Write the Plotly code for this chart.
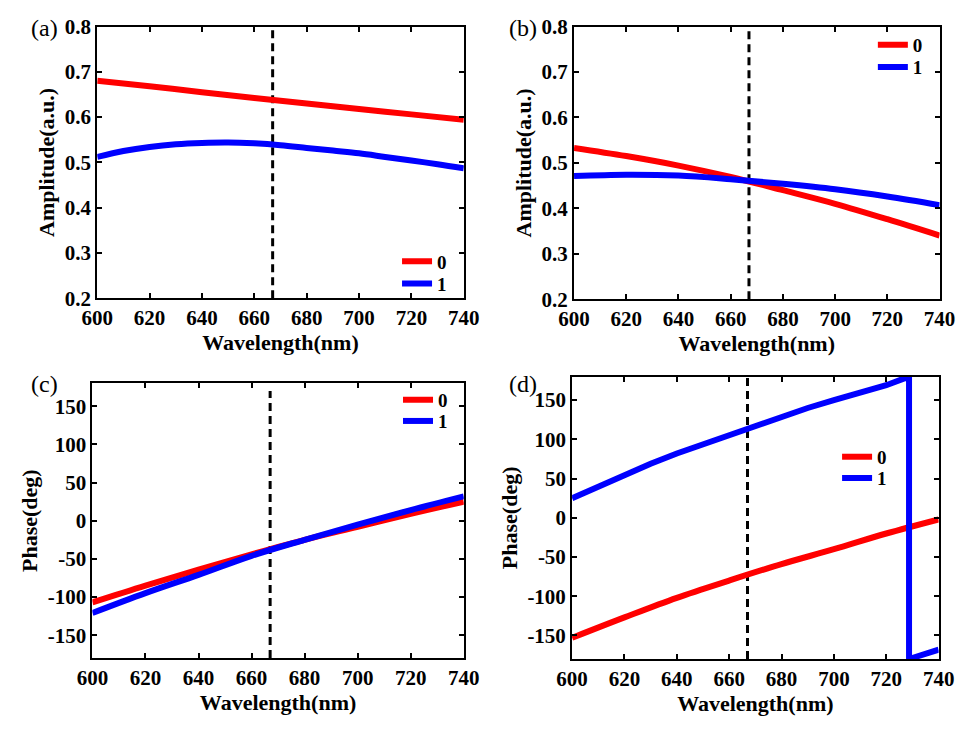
import plotly.graph_objects as go

# ---------------- data ----------------
wl = [600, 620, 640, 660, 680, 700, 720, 740]
wl_a1 = [600, 610, 620, 630, 640, 650, 660, 670, 680, 690, 700, 710, 720, 730, 740]

amp_a_0 = [0.680, 0.668, 0.655, 0.642, 0.630, 0.618, 0.606, 0.594]
amp_a_1 = [0.512, 0.525, 0.534, 0.540, 0.543, 0.544, 0.542, 0.538, 0.532, 0.526,
           0.520, 0.512, 0.504, 0.496, 0.487]

amp_b_0 = [0.533, 0.515, 0.494, 0.469, 0.440, 0.410, 0.376, 0.340]
amp_b_1 = [0.471, 0.474, 0.472, 0.464, 0.454, 0.442, 0.426, 0.407]

ph_c_0 = [-107, -85, -64, -44, -25, -8, 9, 25]
ph_c_1 = [-121, -95, -71, -46, -25, -5, 14, 32]

ph_d_0 = [-153, -127, -102, -80, -59, -40, -20, -2]
wl_d1 = [600, 610, 620, 630, 640, 650, 660, 670, 680, 690, 700, 710, 720, 728.7, 728.7, 740]
ph_d_1 = [25, 40, 55, 69, 82, 94, 106, 118, 129, 140, 150, 160, 169, 180, -180, -168]

marker_wl = 667
amp_ticks = [0.2, 0.3, 0.4, 0.5, 0.6, 0.7, 0.8]
amp_ticktext = ["0.2", "0.3", "0.4", "0.5", "0.6", "0.7", "0.8"]
ph_ticks = [-150, -100, -50, 0, 50, 100, 150]
ph_ticktext = ["-150", "-100", "-50", "0", "50", "100", "150"]
x_ticks = [600, 620, 640, 660, 680, 700, 720, 740]
series_names = ["0", "1"]
panel_labels = ["(a)", "(b)", "(c)", "(d)"]

RED = "#ff0000"
BLUE = "#0000ff"
FONT = "Liberation Serif"
W, H = 973, 730

fig = go.Figure()

def px_x(a, b):
    return [a / W, b / W]

def px_y(top, bottom):
    return [1 - bottom / H, 1 - top / H]

domains = [
    (px_x(84, 463), px_y(15, 296)),
    (px_x(577, 955), px_y(15, 297)),
    (px_x(79, 463), px_y(384, 668)),
    (px_x(575, 954), px_y(377, 669)),
]

panels = [
    (wl, amp_a_0, wl_a1, amp_a_1, [0.2, 0.8], amp_ticks, amp_ticktext, "Amplitude(a.u.)", [0.2, 0.8], "spline"),
    (wl, amp_b_0, wl, amp_b_1, [0.2, 0.8], amp_ticks, amp_ticktext, "Amplitude(a.u.)", [0.2, 0.8], "spline"),
    (wl, ph_c_0, wl, ph_c_1, [-180, 180], ph_ticks, ph_ticktext, "Phase(deg)", [-180, 170], "spline"),
    (wl, ph_d_0, wl_d1, ph_d_1, [-180, 180], ph_ticks, ph_ticktext, "Phase(deg)", [-180, 180], "linear"),
]

# (line-start x, centre y) in px for each legend entry of each panel
legend_pos = [
    [(402, 258), (402, 281)],
    [(894, 34), (894, 57)],
    [(403, 401), (403, 423)],
    [(857, 460), (857, 482)],
]

tick_font = dict(family=FONT, size=21, color="black", weight="bold")
title_font = dict(family=FONT, size=22, color="black", weight="bold")
legend_font = dict(family=FONT, size=19, color="black", weight="bold")

layout_updates = {}
lg_count = 0
for i, (x0, y0, x1, y1, yr, yt, ytt, ytitle, dash_y, shape1) in enumerate(panels):
    n = "" if i == 0 else str(i + 1)
    xa = "x" + n
    ya = "y" + n
    fig.add_trace(go.Scatter(x=[marker_wl, marker_wl], y=dash_y, mode="lines",
                             line=dict(color="black", width=3, dash="8px,5px"),
                             showlegend=False, xaxis=xa, yaxis=ya, hoverinfo="skip"))
    series = [(x0, y0, RED, "spline"), (x1, y1, BLUE, shape1)]
    for j, (xs, ys, col, shp) in enumerate(series):
        lg_count += 1
        lg = "legend" if lg_count == 1 else "legend" + str(lg_count)
        fig.add_trace(go.Scatter(x=xs, y=ys, mode="lines", name=series_names[j],
                                 line=dict(color=col, width=6, shape=shp),
                                 xaxis=xa, yaxis=ya, legend=lg))
        lx, ly = legend_pos[i][j]
        layout_updates[lg] = dict(x=(lx - 8) / W, y=1 - ly / H, xanchor="left", yanchor="middle",
                                  bgcolor="rgba(0,0,0,0)", font=legend_font, itemwidth=30)
    dx, dy = domains[i]
    common = dict(showline=True, linecolor="black", linewidth=2, mirror="ticks",
                  ticks="inside", ticklen=5, tickwidth=2, tickcolor="black",
                  showgrid=False, zeroline=False, tickfont=tick_font)
    layout_updates["xaxis" + n] = dict(domain=dx, range=[600, 740], tickvals=x_ticks,
                                      ticktext=[str(v) for v in x_ticks], anchor=ya,
                                      title=dict(text="Wavelength(nm)", standoff=4, font=title_font),
                                      **common)
    layout_updates["yaxis" + n] = dict(domain=dy, range=yr, tickvals=yt, ticktext=ytt, anchor=xa,
                                      title=dict(text=ytitle, standoff=4, font=title_font),
                                      **common)

label_pos = [(29, 17), (524, 17), (29, 385), (524, 385)]
annotations = []
for lab, (ax_, ay_) in zip(panel_labels, label_pos):
    annotations.append(dict(text=lab, x=ax_ / W, y=1 - ay_ / H, xref="paper", yref="paper",
                            showarrow=False, xanchor="center", yanchor="middle",
                            font=dict(family=FONT, size=24, color="black", weight="normal")))

fig.update_layout(width=W, height=H, margin=dict(l=0, r=0, t=0, b=0),
                  font=dict(family=FONT, size=21, color="black", weight="bold"),
                  plot_bgcolor="white", paper_bgcolor="white",
                  annotations=annotations, **layout_updates)

fig.write_html("out.html")
